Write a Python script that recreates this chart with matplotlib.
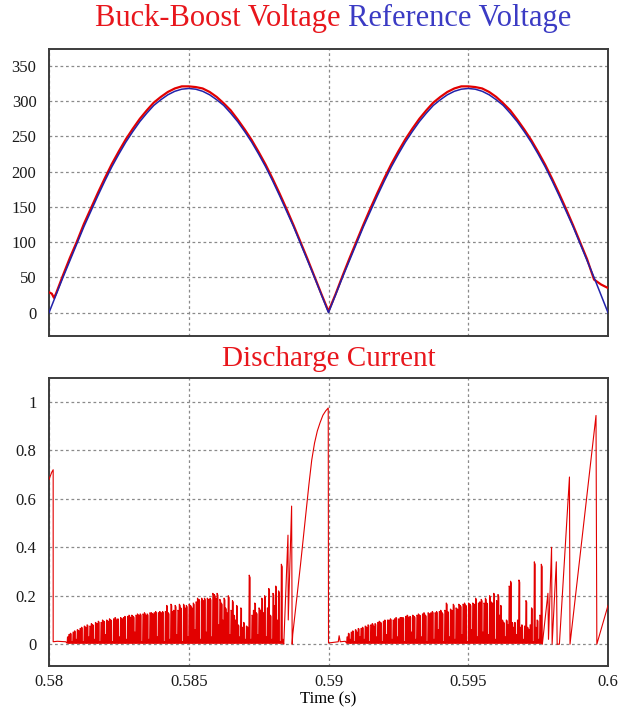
import numpy as np
import matplotlib
matplotlib.use('Agg')
import matplotlib.pyplot as plt

# ---------------- data ----------------
# top panel: voltages sampled every 0.25 ms from 0.58 s to 0.60 s
time_top = np.linspace(0.58, 0.60, 81)
ref_voltage = [0, 25, 50, 74, 98, 122, 144, 166, 187, 207,
               225, 242, 257, 271, 283, 294, 302, 309, 314, 317,
               318, 317, 314, 309, 302, 294, 283, 271, 257, 242,
               225, 207, 187, 166, 144, 122, 98, 74, 50, 25,
               0, 25, 50, 74, 98, 122, 144, 166, 187, 207,
               225, 242, 257, 271, 283, 294, 302, 309, 314, 317,
               318, 317, 314, 309, 302, 294, 283, 271, 257, 242,
               225, 207, 187, 166, 144, 122, 98, 74, 50, 25, 0]
bb_voltage = [29, 27, 53, 78, 101, 126, 148, 170, 191, 211,
              229, 246, 261, 275, 287, 298, 306, 313, 318, 321,
              321, 320, 318, 313, 306, 297, 287, 274, 260, 245,
              228, 210, 190, 169, 147, 124, 100, 76, 51, 26,
              2, 26, 52, 77, 101, 125, 148, 170, 191, 211,
              229, 246, 261, 275, 287, 298, 306, 313, 318, 321,
              321, 320, 318, 313, 306, 297, 287, 274, 260, 245,
              228, 210, 190, 169, 147, 124, 100, 76, 47, 40, 35]
bb_head_time = [0.5801, 0.58018]
bb_head_volt = [27, 21]

# bottom panel: discharge current
current_pre_time = [0.58, 0.5801, 0.58015, 0.58015, 0.5803, 0.5806]
current_pre = [0.68, 0.71, 0.72, 0.01, 0.012, 0.01]

switch_period = 0.00005
burst1_start = 0.58065
burst1_peaks = [
    0.03, 0.04, 0.045, 0.01, 0.05, 0.055, 0.02, 0.06, 0.055, 0.065,
    0.07, 0.01, 0.075, 0.07, 0.08, 0.03, 0.075, 0.085, 0.08, 0.02,
    0.09, 0.085, 0.095, 0.01, 0.09, 0.10, 0.095, 0.04, 0.10, 0.095,
    0.105, 0.10, 0.01, 0.105, 0.11, 0.10, 0.105, 0.03, 0.11, 0.105,
    0.11, 0.115, 0.02, 0.115, 0.12, 0.11, 0.12, 0.115, 0.05, 0.12,
    0.125, 0.12, 0.125, 0.01, 0.125, 0.13, 0.12, 0.125, 0.02, 0.13,
    0.13, 0.125, 0.13, 0.135, 0.03, 0.13, 0.135, 0.13, 0.135, 0.01,
    0.135, 0.16, 0.13, 0.02, 0.165, 0.135, 0.14, 0.16, 0.04, 0.14,
    0.165, 0.15, 0.01, 0.165, 0.15, 0.16, 0.03, 0.165, 0.16, 0.15,
    0.17, 0.06, 0.175, 0.19, 0.185, 0.02, 0.19, 0.18, 0.19, 0.05,
    0.19, 0.185, 0.19, 0.03, 0.21, 0.205, 0.19, 0.21, 0.08, 0.185,
    0.17, 0.10, 0.19, 0.15, 0.13, 0.20, 0.04, 0.14, 0.18, 0.12,
    0.10, 0.16, 0.08, 0.03, 0.15, 0.07, 0.09, 0.02, 0.075, 0.07,
    0.285, 0.02, 0.12, 0.14, 0.17, 0.13, 0.04, 0.15, 0.14, 0.19,
    0.13, 0.20, 0.03, 0.15, 0.23, 0.12, 0.02, 0.21, 0.16, 0.24,
    0.10, 0.22, 0.01, 0.33, 0.02]

current_mid_time = [0.5884, 0.58855, 0.58856, 0.58868, 0.58870, 0.58872,
                    0.5890, 0.5892, 0.5893, 0.5894, 0.5895, 0.5896,
                    0.5897, 0.5898, 0.5899, 0.58999, 0.59,
                    0.59035, 0.59038, 0.59042, 0.5906]
current_mid = [0.0, 0.45, 0.10, 0.57, 0.0, 0.04,
               0.33, 0.55, 0.66, 0.76, 0.83, 0.88,
               0.915, 0.945, 0.963, 0.975, 0.005,
               0.01, 0.035, 0.01, 0.012]

burst2_start = 0.59065
burst2_peaks = [
    0.03, 0.045, 0.02, 0.05, 0.055, 0.01, 0.06, 0.05, 0.065, 0.03,
    0.065, 0.07, 0.02, 0.075, 0.07, 0.08, 0.01, 0.08, 0.085, 0.075,
    0.085, 0.03, 0.09, 0.095, 0.09, 0.01, 0.095, 0.10, 0.04, 0.10,
    0.10, 0.105, 0.02, 0.10, 0.105, 0.11, 0.03, 0.105, 0.11, 0.11,
    0.11, 0.01, 0.115, 0.12, 0.11, 0.115, 0.05, 0.12, 0.115, 0.02,
    0.12, 0.125, 0.12, 0.03, 0.125, 0.13, 0.12, 0.01, 0.13, 0.125,
    0.13, 0.135, 0.02, 0.13, 0.135, 0.06, 0.135, 0.14, 0.13, 0.01,
    0.14, 0.17, 0.135, 0.03, 0.145, 0.14, 0.165, 0.02, 0.15, 0.145,
    0.165, 0.16, 0.04, 0.165, 0.17, 0.16, 0.01, 0.17, 0.165, 0.06,
    0.17, 0.165, 0.19, 0.03, 0.17, 0.175, 0.185, 0.05, 0.17, 0.19,
    0.17, 0.04, 0.20, 0.175, 0.17, 0.21, 0.02, 0.18, 0.205, 0.12,
    0.16, 0.10, 0.09, 0.03, 0.10, 0.08, 0.24, 0.26, 0.09, 0.07,
    0.09, 0.04, 0.10, 0.265, 0.07, 0.08, 0.02, 0.075, 0.18, 0.07,
    0.06, 0.08, 0.15, 0.01, 0.34, 0.07, 0.10, 0.02, 0.12, 0.33]

current_tail_time = [0.59765, 0.59785, 0.59787, 0.59798, 0.598, 0.59815,
                     0.59818, 0.59826, 0.59862, 0.59864, 0.59957, 0.5996, 0.6]
current_tail = [0.0, 0.21, 0.02, 0.40, 0.0, 0.34,
                0.0, 0.0, 0.69, 0.0, 0.944, 0.0, 0.16]

volt_ticks = [0, 50, 100, 150, 200, 250, 300, 350]
curr_ticks = [0, 0.2, 0.4, 0.6, 0.8, 1]
curr_tick_labels = ['0', '0.2', '0.4', '0.6', '0.8', '1']
time_ticks = [0.58, 0.585, 0.59, 0.595, 0.6]
time_tick_labels = ['0.58', '0.585', '0.59', '0.595', '0.6']


def burst(start, peaks, period, base=0.004):
    """Each switching cycle: quick rise to its peak, short plateau, drop to zero."""
    ts, vs = [], []
    for i, p in enumerate(peaks):
        t0 = start + i * period
        ts += [t0, t0 + 0.25 * period, t0 + 0.75 * period, t0 + 0.75 * period]
        vs += [base, p, p * 0.97, base]
    return ts, vs


b1t, b1v = burst(burst1_start, burst1_peaks, switch_period)
b2t, b2v = burst(burst2_start, burst2_peaks, switch_period)
cur_t = current_pre_time + b1t + current_mid_time + b2t + current_tail_time
cur_v = current_pre + b1v + current_mid + b2v + current_tail

bb_t = [time_top[0]] + bb_head_time + list(time_top[1:])
bb_v = [bb_voltage[0]] + bb_head_volt + bb_voltage[1:]

# ---------------- figure ----------------
plt.rcParams['font.family'] = ['Liberation Serif', 'DejaVu Serif']
RED = '#e20000'
BLUE = '#2222aa'
GRID = dict(color='#8a8a8a', linestyle=(0, (2.2, 2.2)), linewidth=0.9)

fig = plt.figure(figsize=(6.24, 7.07), dpi=100)
ax1 = fig.add_axes([0.0785, 0.5248, 0.8959, 0.4059])
ax2 = fig.add_axes([0.0785, 0.0580, 0.8959, 0.4078])

ax1.plot(bb_t, bb_v, color=RED, lw=1.6, zorder=3)
ax1.plot(time_top, ref_voltage, color=BLUE, lw=1.1, zorder=4)
ax1.set_ylim(-33, 374)
ax1.set_yticks(volt_ticks)
ax1.set_xticks(time_ticks)
ax1.set_xticklabels([])

ax2.fill_between(b1t, 0.004, b1v, color=RED, lw=0, zorder=2)
ax2.fill_between(b2t, 0.004, b2v, color=RED, lw=0, zorder=2)
ax2.plot(cur_t, cur_v, color=RED, lw=0.8, zorder=3)
ax2.set_ylim(-0.09, 1.10)
ax2.set_yticks(curr_ticks)
ax2.set_yticklabels(curr_tick_labels)
ax2.set_xticks(time_ticks)
ax2.set_xticklabels(time_tick_labels)
ax2.set_xlabel('Time (s)', fontsize=12, labelpad=1)

for ax in (ax1, ax2):
    ax.set_xlim(0.58, 0.60)
    ax.grid(True, **GRID)
    ax.set_axisbelow(True)
    for s in ax.spines.values():
        s.set_color('#3c3c3c')
        s.set_linewidth(1.4)
    ax.tick_params(length=0, labelsize=12, colors='#1a1a1a')
    ax.tick_params(axis='y', pad=9)
    ax.tick_params(axis='x', pad=6)

# titles
fig.canvas.draw()
r = fig.canvas.get_renderer()
t_red = fig.text(0.5, 1 - 26 / 707, 'Buck-Boost Voltage ', color='#e8161c',
                 fontsize=22, ha='left', va='baseline')
t_blue = fig.text(0.5, 1 - 26 / 707, 'Reference Voltage', color='#3b3bc4',
                  fontsize=22, ha='left', va='baseline')
w_red = t_red.get_window_extent(r).width
w_blue = t_blue.get_window_extent(r).width
total = w_red + w_blue
x0 = 333 - total / 2
t_red.set_x(x0 / 624)
t_blue.set_x((x0 + w_red) / 624)

fig.text(0.0785 + 0.8959 / 2, 1 - 366 / 707, 'Discharge Current', color='#e8161c',
         fontsize=21, ha='center', va='baseline')

fig.savefig('out.png', dpi=100)
